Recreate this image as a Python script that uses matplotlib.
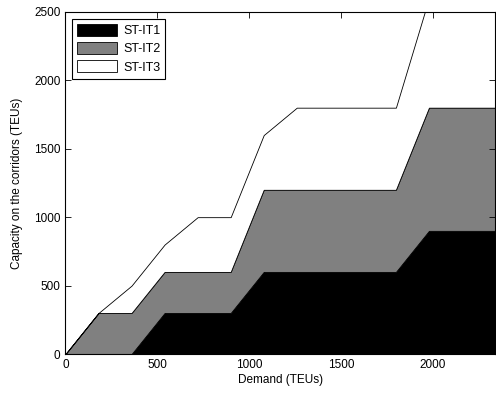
import numpy as np
import matplotlib
matplotlib.use('Agg')
import matplotlib.pyplot as plt

# demand levels (TEUs)
demand = [0, 180, 360, 540, 720, 900, 1080, 1260, 1440, 1620, 1800, 1980, 2160, 2340]
# capacity added by each iteration
st_it1 = [0, 0, 0, 300, 300, 300, 600, 600, 600, 600, 600, 900, 900, 900]
st_it2 = [0, 300, 300, 300, 300, 300, 600, 600, 600, 600, 600, 900, 900, 900]
st_it3 = [0, 0, 200, 200, 400, 400, 400, 600, 600, 600, 600, 800, 800, 800]
labels = ['ST-IT1', 'ST-IT2', 'ST-IT3']

plt.rcParams['font.family'] = ['Liberation Sans', 'DejaVu Sans']
plt.rcParams['font.size'] = 8.5

fig = plt.figure(figsize=(4.96, 3.96), dpi=100)
ax = fig.add_axes([0.132, 0.106, 0.866, 0.864])

ax.stackplot(demand, st_it1, st_it2, st_it3, labels=labels,
             colors=['black', '#808080', 'white'],
             edgecolor='black', linewidth=0.6)

ax.set_xlim(0, 2340)
ax.set_ylim(0, 2500)
ax.set_xticks([0, 500, 1000, 1500, 2000])
ax.set_yticks([0, 500, 1000, 1500, 2000, 2500])
ax.tick_params(direction='in', top=True, right=True, length=4, width=0.6)
for s in ax.spines.values():
    s.set_linewidth(0.8)

ax.set_xlabel('Demand (TEUs)', labelpad=2)
ax.set_ylabel('Capacity on the corridors (TEUs)', labelpad=8)

leg = ax.legend(loc='upper left', fancybox=False, edgecolor='black',
                handlelength=3.2, handleheight=1.1, borderaxespad=0.55,
                labelspacing=0.4, handletextpad=0.45, framealpha=1,
                fontsize=9)
leg.get_frame().set_linewidth(0.8)

fig.savefig('out.png', dpi=100)
